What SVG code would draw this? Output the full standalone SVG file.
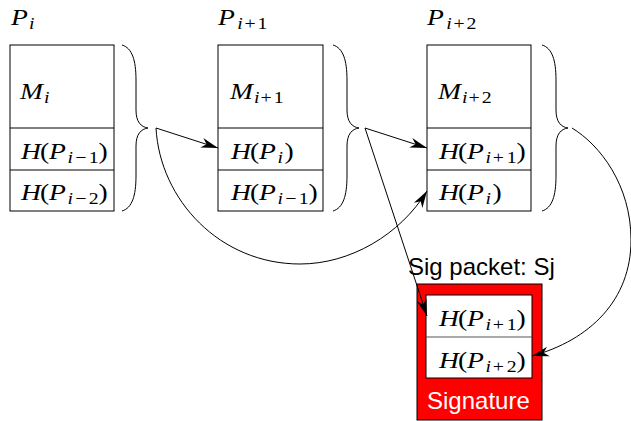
<svg xmlns="http://www.w3.org/2000/svg" width="631" height="421" viewBox="0 0 631 421">
<style>
.box{fill:#fff;stroke:#000;stroke-width:1}
.ln{stroke:#000;stroke-width:1}
.br{fill:none;stroke:#000;stroke-width:1}
.m{font-family:"Liberation Serif","Times New Roman",serif;font-size:23px;font-style:italic;fill:#000}
.r{font-style:normal}
.s{font-size:16.5px}
.sans{font-family:"Liberation Sans",Arial,sans-serif;font-size:24px}
.con{fill:none;stroke:#000;stroke-width:1;marker-end:url(#ah)}
</style>
<defs>
<marker id="ah" viewBox="-18 -6 19 12" refX="0" refY="0" markerWidth="19" markerHeight="12" markerUnits="userSpaceOnUse" orient="auto">
<path d="M0,0 L-17,-5 L-12,0 L-17,5 Z" fill="#000"/>
</marker>
<path id="brace" d="M0,0 C10,3 14,15 14,35 L14,65 C14,77 19,82 26,83 C19,84 14,89 14,101 L14,131 C14,151 10,163 0,166"/>
</defs>

<g id="label-Pi">
<text class="m" transform="translate(11,25) scale(1.2,1)"><tspan x="0" y="0">P</tspan><tspan class="s" x="15" y="4">i</tspan></text>
</g>
<g id="label-Pi1">
<text class="m" transform="translate(218,25) scale(1.2,1)"><tspan x="0" y="0">P</tspan><tspan class="s" x="16" y="4">i</tspan><tspan class="s r" x="22">+</tspan><tspan class="s r" x="33">1</tspan></text>
</g>
<g id="label-Pi2">
<text class="m" transform="translate(427,25) scale(1.2,1)"><tspan x="0" y="0">P</tspan><tspan class="s" x="16" y="4">i</tspan><tspan class="s r" x="22">+</tspan><tspan class="s r" x="33">2</tspan></text>
</g>

<g id="packet-Pi">
<rect class="box" x="10" y="45" width="104" height="166"/>
<line class="ln" x1="10" y1="128" x2="114" y2="128"/>
<line class="ln" x1="10" y1="170" x2="114" y2="170"/>
<text class="m" transform="translate(20,99) scale(1.2,1)"><tspan x="0" y="0">M</tspan><tspan class="s" x="20" y="4">i</tspan></text>
<text class="m" transform="translate(21,158.5) scale(1.2,1)"><tspan x="0" y="0">H</tspan><tspan class="r" x="15.8">(</tspan><tspan x="23.3">P</tspan><tspan class="s" x="38.8" y="4">i</tspan><tspan class="s r" x="45.3">−</tspan><tspan class="s r" x="56.5">1</tspan><tspan class="r" x="64.5" y="0">)</tspan></text>
<text class="m" transform="translate(21,200) scale(1.2,1)"><tspan x="0" y="0">H</tspan><tspan class="r" x="15.8">(</tspan><tspan x="23.3">P</tspan><tspan class="s" x="38.8" y="4">i</tspan><tspan class="s r" x="45.3">−</tspan><tspan class="s r" x="56.5">2</tspan><tspan class="r" x="64.5" y="0">)</tspan></text>
<use href="#brace" class="br" x="122" y="45"/>
</g>

<g id="packet-Pi1">
<rect class="box" x="218" y="45" width="105" height="166"/>
<line class="ln" x1="218" y1="128" x2="323" y2="128"/>
<line class="ln" x1="218" y1="170" x2="323" y2="170"/>
<text class="m" transform="translate(230,99) scale(1.2,1)"><tspan x="0" y="0">M</tspan><tspan class="s" x="20" y="4">i</tspan><tspan class="s r" x="25.5">+</tspan><tspan class="s r" x="36.5">1</tspan></text>
<text class="m" transform="translate(231,158.5) scale(1.2,1)"><tspan x="0" y="0">H</tspan><tspan class="r" x="15.8">(</tspan><tspan x="23.3">P</tspan><tspan class="s" x="38.8" y="4">i</tspan><tspan class="r" x="44.5" y="0">)</tspan></text>
<text class="m" transform="translate(231,200) scale(1.2,1)"><tspan x="0" y="0">H</tspan><tspan class="r" x="15.8">(</tspan><tspan x="23.3">P</tspan><tspan class="s" x="38.8" y="4">i</tspan><tspan class="s r" x="45.3">−</tspan><tspan class="s r" x="56.5">1</tspan><tspan class="r" x="64.5" y="0">)</tspan></text>
<use href="#brace" class="br" x="333" y="45"/>
</g>

<g id="packet-Pi2">
<rect class="box" x="427" y="45" width="104" height="166"/>
<line class="ln" x1="427" y1="128" x2="531" y2="128"/>
<line class="ln" x1="427" y1="170" x2="531" y2="170"/>
<text class="m" transform="translate(438,99) scale(1.2,1)"><tspan x="0" y="0">M</tspan><tspan class="s" x="20" y="4">i</tspan><tspan class="s r" x="25.5">+</tspan><tspan class="s r" x="36.5">2</tspan></text>
<text class="m" transform="translate(439,158.5) scale(1.2,1)"><tspan x="0" y="0">H</tspan><tspan class="r" x="15.8">(</tspan><tspan x="23.3">P</tspan><tspan class="s" x="38.8" y="4">i</tspan><tspan class="s r" x="44.8">+</tspan><tspan class="s r" x="56.5">1</tspan><tspan class="r" x="64.5" y="0">)</tspan></text>
<text class="m" transform="translate(439,200) scale(1.2,1)"><tspan x="0" y="0">H</tspan><tspan class="r" x="15.8">(</tspan><tspan x="23.3">P</tspan><tspan class="s" x="38.8" y="4">i</tspan><tspan class="r" x="44.5" y="0">)</tspan></text>
<use href="#brace" class="br" x="542" y="45"/>
</g>

<g id="sig-packet">
<text class="sans" x="408" y="275">Sig packet: Sj</text>
<rect x="417" y="284" width="125" height="136" fill="#ff0000" stroke="#000" stroke-width="1"/>
<rect class="box" x="426" y="295" width="106" height="83"/>
<line x1="426" y1="337" x2="532" y2="337" stroke="#555" stroke-width="1.2"/>
<text class="m" transform="translate(439,326) scale(1.2,1)"><tspan x="0" y="0">H</tspan><tspan class="r" x="15.8">(</tspan><tspan x="23.3">P</tspan><tspan class="s" x="38.8" y="4">i</tspan><tspan class="s r" x="44.8">+</tspan><tspan class="s r" x="56.5">1</tspan><tspan class="r" x="64.5" y="0">)</tspan></text>
<text class="m" transform="translate(439,368) scale(1.2,1)"><tspan x="0" y="0">H</tspan><tspan class="r" x="15.8">(</tspan><tspan x="23.3">P</tspan><tspan class="s" x="38.8" y="4">i</tspan><tspan class="s r" x="44.8">+</tspan><tspan class="s r" x="56.5">2</tspan><tspan class="r" x="64.5" y="0">)</tspan></text>
<text class="sans" x="427" y="409" fill="#fff">Signature</text>
</g>

<g id="connectors">
<path class="con" d="M156,128 L218,148"/>
<path class="con" d="M156,128 C160,200 220,264 300,264 C350,264 400,235 427,191"/>
<path class="con" d="M365,128 L427,148"/>
<path class="con" d="M365,128 L427,316"/>
<path class="con" d="M572,128 C600,145 631,185 631,240 C631,300 590,340 532,356"/>
</g>
</svg>
